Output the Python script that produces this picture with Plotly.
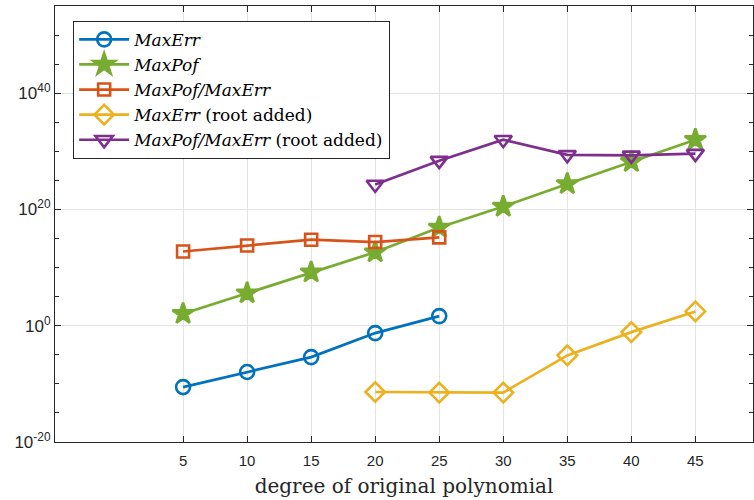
import plotly.graph_objects as go

degrees_a = [5, 10, 15, 20, 25]
degrees_all = [5, 10, 15, 20, 25, 30, 35, 40, 45]
degrees_b = [20, 25, 30, 35, 40, 45]

max_err = [2.8e-11, 1.1e-8, 4.0e-6, 5.4e-2, 45]
max_pof = [115, 4.0e5, 1.6e9, 4.5e12, 8.0e16, 3.2e20, 2.5e24, 1.6e28, 1.0e32]
ratio = [5.9e12, 6.3e13, 6.3e14, 2.5e14, 1.6e15]
max_err_root = [4.0e-12, 3.2e-12, 3.2e-12, 8.0e-6, 8.0e-2, 290]
ratio_root = [2.0e24, 2.5e28, 1.0e32, 2.5e29, 2.0e29, 4.0e29]

names = [
    "<i>MaxErr</i>",
    "<i>MaxPof</i>",
    "<i>MaxPof/MaxErr</i>",
    "<i>MaxErr</i> (root added)",
    "<i>MaxPof/MaxErr</i> (root added)",
]
colors = ["#0072BD", "#77AC30", "#D95319", "#EDB120", "#7E2F8E"]
symbols = ["circle-open", "star", "square-open", "diamond-open", "triangle-down-open"]
sizes = [14, 16, 12, 15, 15]

series = [
    (degrees_a, max_err),
    (degrees_all, max_pof),
    (degrees_a, ratio),
    (degrees_b, max_err_root),
    (degrees_b, ratio_root),
]

y_tickvals = [1e-20, 1e0, 1e20, 1e40]
y_ticktext = ["10<sup>-20</sup>", "10<sup>0</sup>", "10<sup>20</sup>", "10<sup>40</sup>"]
y_minor = [10.0 ** k for k in range(-20, 56, 5)]

SERIF = "DejaVu Serif"

fig = go.Figure()
for (xs, ys), name, c, s, sz in zip(series, names, colors, symbols, sizes):
    fig.add_trace(go.Scatter(
        x=xs, y=ys, name=name, mode="lines+markers",
        line=dict(color=c, width=2.7),
        marker=dict(symbol=s, size=sz, color=c, line=dict(color=c, width=2.6)),
    ))

fig.update_layout(
    width=754, height=500,
    margin=dict(l=55, r=1, t=6, b=58),
    plot_bgcolor="white", paper_bgcolor="white",
    font=dict(family="Liberation Sans", size=15, color="#262626"),
    legend=dict(
        x=0.026, y=0.966, xanchor="left", yanchor="top",
        bgcolor="white", bordercolor="#262626", borderwidth=1,
        font=dict(family=SERIF, size=17, color="black"),
        itemwidth=50, tracegroupgap=0,
    ),
    xaxis=dict(
        range=[-5, 49.5], tickvals=degrees_all, automargin=False,
        showgrid=True, gridcolor="#E3E3E3", gridwidth=1,
        showline=True, linecolor="#262626", linewidth=1.2, mirror="allticks",
        ticks="inside", ticklen=6, tickcolor="#262626",
        ticklabelstandoff=5,
        zeroline=False,
        title=dict(text="degree of original polynomial",
                   font=dict(family=SERIF, size=20, color="#262626"),
                   standoff=10),
    ),
    yaxis=dict(
        type="log", range=[-20, 55], automargin=False,
        tickvals=y_tickvals, ticktext=y_ticktext,
        tickfont=dict(size=17),
        showgrid=True, gridcolor="#E3E3E3", gridwidth=1,
        showline=True, linecolor="#262626", linewidth=1.2, mirror="allticks",
        ticks="inside", ticklen=6, tickcolor="#262626",
        minor=dict(tickvals=y_minor, ticks="inside", ticklen=4, tickcolor="#262626", showgrid=False),
        zeroline=False,
    ),
)

fig.write_html(
    "out.html",
    config={"displayModeBar": False},
    post_script="document.body.style.margin='0';document.body.style.overflow='hidden';",
)
